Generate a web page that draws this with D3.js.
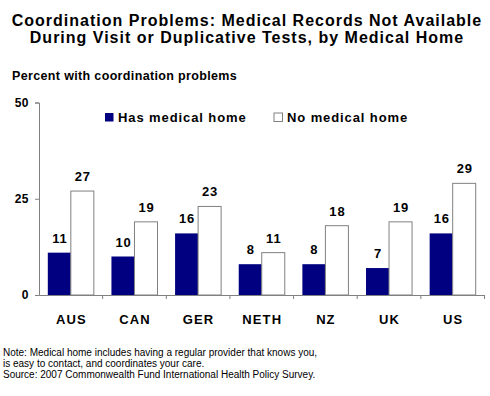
<!DOCTYPE html>
<html>
<head>
<meta charset="utf-8">
<script src="https://cdn.jsdelivr.net/npm/d3@7"></script>
<style>
body{margin:0;background:#fff;}
svg{font-family:Arial,"Liberation Sans",sans-serif;}
</style>
</head>
<body>
<script>
var countries=["AUS","CAN","GER","NETH","NZ","UK","US"];
var hasHome=[11,10,16,8,8,7,16];
var noHome=[27,19,23,11,18,19,29];
var yTicks=[0,25,50];
var seriesNames=["Has medical home","No medical home"];
var seriesColors=["#000080","#ffffff"];

var svg=d3.select("body").append("svg")
  .attr("width",490).attr("height",396);

// titles
svg.append("text").attr("x",247).attr("y",25.5).attr("text-anchor","middle")
  .attr("font-size",16).attr("font-weight","bold").attr("letter-spacing",1.0)
  .text("Coordination Problems: Medical Records Not Available");
svg.append("text").attr("x",247).attr("y",42.5).attr("text-anchor","middle")
  .attr("font-size",16).attr("font-weight","bold").attr("letter-spacing",1.0)
  .text("During Visit or Duplicative Tests, by Medical Home");
svg.append("text").attr("x",12).attr("y",80)
  .attr("font-size",12.5).attr("font-weight","bold").attr("letter-spacing",0.35)
  .text("Percent with coordination problems");

var Y=d3.scaleLinear().domain([0,50]).range([295,102.5]);
var X=d3.scaleBand().domain(countries).range([39,484.5]).paddingInner(0).paddingOuter(0);
var inner=d3.scaleBand().domain([0,1]).range([8.8,X.bandwidth()-8.8]);

var yAxis=d3.axisLeft(Y).tickValues(yTicks).tickSize(4).tickPadding(6);
var gy=svg.append("g").attr("transform","translate(39,0)").call(yAxis);
gy.select(".domain").attr("stroke","#808080");
gy.selectAll(".tick line").attr("stroke","#808080");
gy.selectAll(".tick text").attr("font-size",12).attr("font-weight","bold").attr("fill","#000")
  .attr("letter-spacing",0.5).attr("font-family","Arial,'Liberation Sans',sans-serif");

// x axis line with ticks between groups
var xAxis=d3.axisBottom(X).tickSize(0).tickFormat("");
var gx=svg.append("g").attr("transform","translate(0,295)").call(xAxis);
gx.select(".domain").attr("stroke","#808080");
var bounds=countries.map(function(c){return X(c)+X.bandwidth();});
svg.selectAll(".xtick").data(bounds).enter().append("line")
  .attr("x1",function(d){return d;}).attr("x2",function(d){return d;})
  .attr("y1",295).attr("y2",299).attr("stroke","#808080");

svg.selectAll(".cat").data(countries).enter().append("text")
  .attr("x",function(d){return X(d)+X.bandwidth()/2+0.5;})
  .attr("y",324).attr("text-anchor","middle")
  .attr("font-size",13).attr("font-weight","bold").attr("letter-spacing",1.1)
  .text(function(d){return d;});

var series=[hasHome,noHome];
series.forEach(function(vals,s){
  var g=svg.append("g");
  g.selectAll("rect").data(vals).enter().append("rect")
    .attr("x",function(d,i){return X(countries[i])+inner(s);})
    .attr("width",inner.bandwidth())
    .attr("y",function(d){return Y(d);})
    .attr("height",function(d){return Y(0)-Y(d);})
    .attr("fill",seriesColors[s])
    .attr("stroke",s==0?"none":"#808080").attr("stroke-width",1);
  g.selectAll("text").data(vals).enter().append("text")
    .attr("x",function(d,i){return X(countries[i])+inner(s)+inner.bandwidth()/2+0.5;})
    .attr("y",function(d){return Y(d)-10;})
    .attr("text-anchor","middle").attr("font-size",13).attr("font-weight","bold")
    .attr("letter-spacing",0.8)
    .text(function(d){return d;});
});

// legend
var legX=[105,274];
seriesNames.forEach(function(n,i){
  svg.append("rect").attr("x",legX[i]).attr("y",113).attr("width",8.5).attr("height",8.5)
    .attr("fill",seriesColors[i]).attr("stroke",i==0?"none":"#808080");
  svg.append("text").attr("x",legX[i]+13).attr("y",122).attr("font-size",13).attr("font-weight","bold")
    .attr("letter-spacing",0.9).text(n);
});

var notes=["Note: Medical home includes having a regular provider that knows you,",
  "is easy to contact, and coordinates your care.",
  "Source: 2007 Commonwealth Fund International Health Policy Survey."];
svg.selectAll(".note").data(notes).enter().append("text")
  .attr("x",3).attr("y",function(d,i){return 355.5+i*11.2;})
  .attr("font-size",10).text(function(d){return d;});
</script>
</body>
</html>
